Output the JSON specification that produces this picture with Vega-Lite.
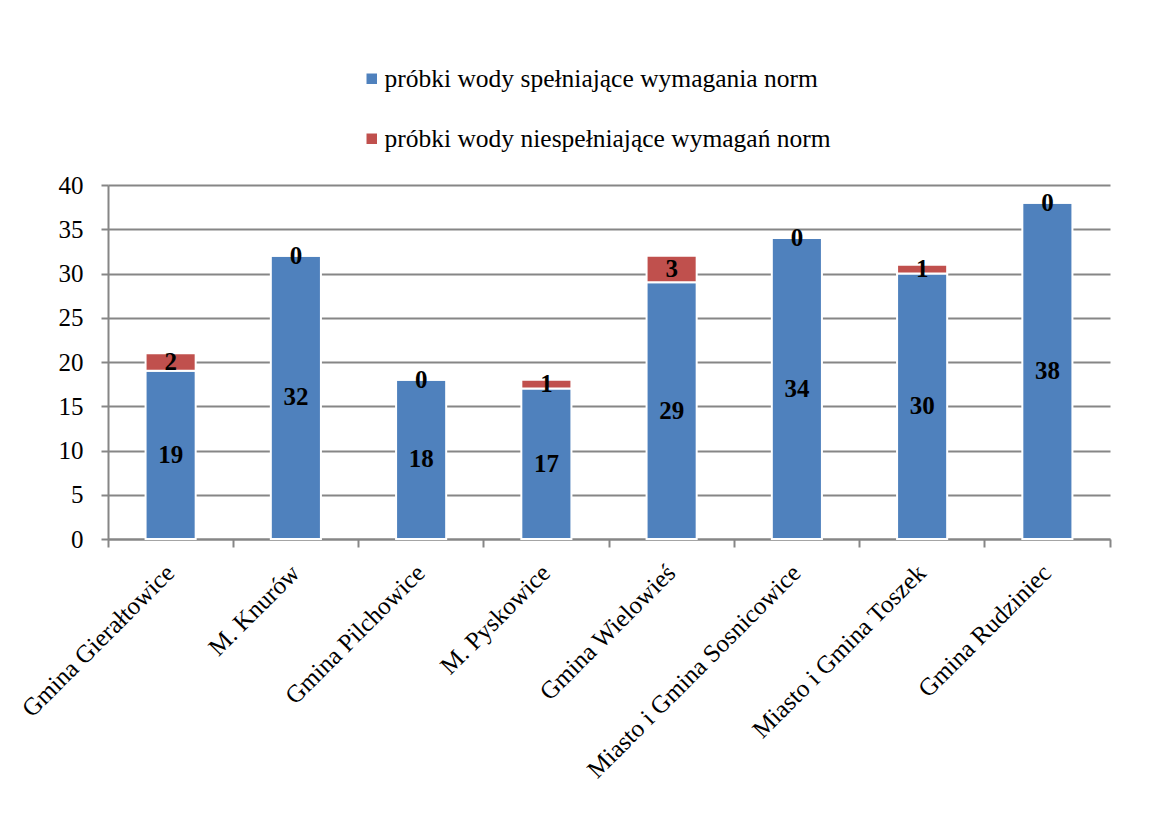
{
  "$schema": "https://vega.github.io/schema/vega-lite/v6.json",
  "width": 1002,
  "height": 354,
  "autosize": {"type": "none"},
  "padding": {"left": 108, "top": 185, "right": 48, "bottom": 280},
  "background": "white",
  "config": {"view": {"stroke": null}, "font": "Liberation Serif"},
  "data": {
    "values": [
      {"gmina": "Gmina Gierałtowice", "seria": "próbki wody spełniające wymagania norm", "wartosc": 19, "nr": 1},
      {"gmina": "Gmina Gierałtowice", "seria": "próbki wody niespełniające wymagań norm", "wartosc": 2, "nr": 2},
      {"gmina": "M. Knurów", "seria": "próbki wody spełniające wymagania norm", "wartosc": 32, "nr": 1},
      {"gmina": "M. Knurów", "seria": "próbki wody niespełniające wymagań norm", "wartosc": 0, "nr": 2},
      {"gmina": "Gmina Pilchowice", "seria": "próbki wody spełniające wymagania norm", "wartosc": 18, "nr": 1},
      {"gmina": "Gmina Pilchowice", "seria": "próbki wody niespełniające wymagań norm", "wartosc": 0, "nr": 2},
      {"gmina": "M. Pyskowice", "seria": "próbki wody spełniające wymagania norm", "wartosc": 17, "nr": 1},
      {"gmina": "M. Pyskowice", "seria": "próbki wody niespełniające wymagań norm", "wartosc": 1, "nr": 2},
      {"gmina": "Gmina Wielowieś", "seria": "próbki wody spełniające wymagania norm", "wartosc": 29, "nr": 1},
      {"gmina": "Gmina Wielowieś", "seria": "próbki wody niespełniające wymagań norm", "wartosc": 3, "nr": 2},
      {"gmina": "Miasto i Gmina Sosnicowice", "seria": "próbki wody spełniające wymagania norm", "wartosc": 34, "nr": 1},
      {"gmina": "Miasto i Gmina Sosnicowice", "seria": "próbki wody niespełniające wymagań norm", "wartosc": 0, "nr": 2},
      {"gmina": "Miasto i Gmina Toszek", "seria": "próbki wody spełniające wymagania norm", "wartosc": 30, "nr": 1},
      {"gmina": "Miasto i Gmina Toszek", "seria": "próbki wody niespełniające wymagań norm", "wartosc": 1, "nr": 2},
      {"gmina": "Gmina Rudziniec", "seria": "próbki wody spełniające wymagania norm", "wartosc": 38, "nr": 1},
      {"gmina": "Gmina Rudziniec", "seria": "próbki wody niespełniające wymagań norm", "wartosc": 0, "nr": 2}
    ]
  },
  "encoding": {
    "x": {
      "field": "gmina",
      "type": "nominal",
      "sort": null,
      "scale": {"paddingInner": 0, "paddingOuter": 0},
      "axis": {
        "title": null,
        "labelAngle": -45,
        "labelFont": "Liberation Serif",
        "labelFontSize": 25,
        "labelColor": "black",
        "labelLimit": 500,
        "labelOffset": -9,
        "labelPadding": 13,
        "domainColor": "#868686",
        "domainWidth": 2,
        "tickColor": "#868686",
        "tickWidth": 2,
        "tickSize": 8,
        "bandPosition": 1,
        "tickExtra": true
      }
    }
  },
  "layer": [
    {
      "mark": {"type": "bar", "width": {"band": 0.4}, "stroke": "white", "strokeWidth": 2},
      "encoding": {
        "y": {
          "field": "wartosc",
          "type": "quantitative",
          "stack": "zero",
          "scale": {"domain": [0, 40]},
          "axis": {
            "title": null,
            "values": [0, 5, 10, 15, 20, 25, 30, 35, 40],
            "labelFont": "Liberation Serif",
            "labelFontSize": 25,
            "labelColor": "black",
            "labelPadding": 18,
            "grid": true,
            "gridColor": "#868686",
            "gridWidth": 2,
            "domainColor": "#868686",
            "domainWidth": 2,
            "tickColor": "#868686",
            "tickWidth": 2,
            "tickSize": 7
          }
        },
        "color": {
          "field": "seria",
          "type": "nominal",
          "scale": {
            "domain": ["próbki wody spełniające wymagania norm", "próbki wody niespełniające wymagań norm"],
            "range": ["#4F81BD", "#C0504D"]
          },
          "legend": {
            "title": null,
            "orient": "none",
            "legendX": 251,
            "legendY": -119,
            "direction": "vertical",
            "symbolType": "square",
            "symbolSize": 110,
            "symbolStrokeWidth": 0,
            "labelFont": "Liberation Serif",
            "labelFontSize": 25.5,
            "labelColor": "black",
            "labelLimit": 700,
            "labelOffset": 0,
            "rowPadding": 33
          }
        },
        "order": {"field": "nr"}
      }
    },
    {
      "mark": {"type": "text", "font": "Liberation Serif", "fontWeight": "bold", "fontSize": 25, "baseline": "middle", "color": "black"},
      "encoding": {
        "y": {"field": "wartosc", "type": "quantitative", "stack": "zero", "bandPosition": 0.5},
        "text": {"field": "wartosc", "type": "quantitative"},
        "detail": {"field": "seria"},
        "order": {"field": "nr"}
      }
    }
  ]
}
